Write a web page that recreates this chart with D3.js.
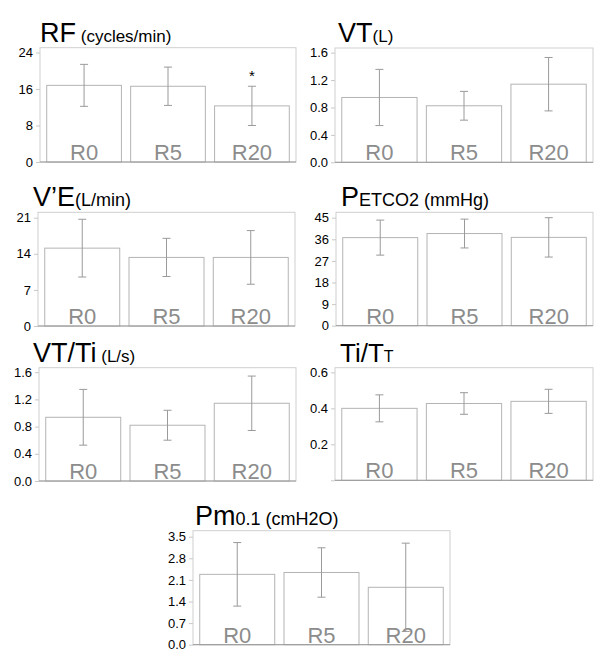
<!DOCTYPE html>
<html>
<head>
<meta charset="utf-8">
<script src="https://cdn.jsdelivr.net/npm/d3@7"></script>
<style>
  body { margin: 0; background: #fff; }
  svg { font-family: "Liberation Sans", Arial, sans-serif; }
  .tick text { fill: #000; font-size: 13px; }
  .tick line { stroke: #c8c8c8; }
</style>
</head>
<body>
<div id="chart"></div>
<script>
// data: mean and SD for each period
var categories = ["R0", "R5", "R20"];

var rfMean = [16.8, 16.6, 12.3];
var rfSD = [4.6, 4.2, 4.3];
var rfTicks = [0, 8, 16, 24];

var vtMean = [0.946, 0.825, 1.14];
var vtSD = [0.41, 0.21, 0.39];
var vtTicks = [0, 0.4, 0.8, 1.2, 1.6];

var veMean = [15.1, 13.3, 13.3];
var veSD = [5.6, 3.7, 5.2];
var veTicks = [0, 7, 14, 21];

var petco2Mean = [36.7, 38.4, 36.8];
var petco2SD = [7.3, 6.0, 8.2];
var petco2Ticks = [0, 9, 18, 27, 36, 45];

var vttiMean = [0.937, 0.82, 1.143];
var vttiSD = [0.41, 0.22, 0.40];
var vttiTicks = [0, 0.4, 0.8, 1.2, 1.6];

var tittMean = [0.40, 0.427, 0.439];
var tittSD = [0.075, 0.06, 0.067];
var tittTicks = [0, 0.2, 0.4, 0.6];

var pmMean = [2.28, 2.34, 1.86];
var pmSD = [1.03, 0.80, 1.43];
var pmTicks = [0, 0.7, 1.4, 2.1, 2.8, 3.5];

// significant difference marker (index into categories)
var rfStar = [2];

var svg = d3.select("#chart")
    .append("svg")
    .attr("width", 600)
    .attr("height", 665);

// one panel per variable
var panels = [
    {mean: rfMean, sd: rfSD, ticks: rfTicks, fmt: d3.format("d"), max: 25.05,
     x0: 40, x1: 296, top: 47.7, base: 162, tx: 40,
     title: [["RF", 27], [" (cycles/min)", 17]], star: rfStar},
    {mean: vtMean, sd: vtSD, ticks: vtTicks, fmt: d3.format(".1f"), max: 1.668,
     x0: 335, x1: 593, top: 48, base: 162.3, tx: 338,
     title: [["VT", 27], ["(L)", 17]]},
    {mean: veMean, sd: veSD, ticks: veTicks, fmt: d3.format("d"), max: 22.05,
     x0: 38, x1: 295, top: 212.3, base: 326, tx: 33,
     title: [["V\u2019E", 27], ["(L/min)", 18]]},
    {mean: petco2Mean, sd: petco2SD, ticks: petco2Ticks, fmt: d3.format("d"), max: 47.25,
     x0: 336, x1: 593, top: 212.3, base: 325.7, tx: 341,
     title: [["P", 27], ["ETCO2 (mmHg)", 18]]},
    {mean: vttiMean, sd: vttiSD, ticks: vttiTicks, fmt: d3.format(".1f"), max: 1.666,
     x0: 39, x1: 296, top: 367.7, base: 481, tx: 33,
     title: [["VT/Ti", 27], [" (L/s)", 17]]},
    {mean: tittMean, sd: tittSD, ticks: tittTicks, fmt: function(d) { return d === 0 ? "" : d3.format(".1f")(d); }, max: 0.626,
     x0: 335, x1: 593, top: 367.7, base: 480.3, tx: 340,
     title: [["Ti/T", 26], ["T", 16]]},
    {mean: pmMean, sd: pmSD, ticks: pmTicks, fmt: d3.format(".1f"), max: 3.694,
     x0: 193, x1: 450, top: 530.7, base: 644.7, tx: 195,
     title: [["Pm", 27], ["0.1 (cmH2O)", 18]]}
];

panels.forEach(function(p) {
    var g = svg.append("g");

    var xScale = d3.scaleBand()
        .domain(categories)
        .range([p.x0, p.x1])
        .paddingInner(0.11)
        .paddingOuter(0.08);

    var yScale = d3.scaleLinear()
        .domain([0, p.max])
        .range([p.base, p.top]);

    // title with smaller unit part
    var t = g.append("text")
        .attr("x", p.tx)
        .attr("y", p.top - 6)
        .attr("fill", "#000");
    p.title.forEach(function(s) {
        t.append("tspan").attr("font-size", s[1] + "px").text(s[0]);
    });

    // frame
    g.append("rect")
        .attr("x", p.x0)
        .attr("y", p.top)
        .attr("width", p.x1 - p.x0)
        .attr("height", p.base - p.top)
        .attr("fill", "none")
        .attr("stroke", "#cfcfcf");

    // y axis
    var ax = g.append("g")
        .attr("transform", "translate(" + p.x0 + ",0)")
        .call(d3.axisLeft(yScale).tickValues(p.ticks).tickFormat(p.fmt).tickSize(4).tickPadding(3));
    ax.select(".domain").remove();

    // bars
    g.selectAll(".bar")
        .data(p.mean)
        .enter().append("rect")
        .attr("class", "bar")
        .attr("x", function(d, i) { return xScale(categories[i]); })
        .attr("width", xScale.bandwidth())
        .attr("y", function(d) { return yScale(d); })
        .attr("height", function(d) { return yScale(0) - yScale(d); })
        .attr("fill", "#fff")
        .attr("stroke", "#b4b4b4");

    // baseline under the bars
    g.append("line")
        .attr("x1", p.x0)
        .attr("x2", p.x1)
        .attr("y1", yScale(0))
        .attr("y2", yScale(0))
        .attr("stroke", "#999");

    // category labels inside bars
    g.selectAll(".cat")
        .data(categories)
        .enter().append("text")
        .attr("x", function(d) { return xScale(d) + xScale.bandwidth() / 2; })
        .attr("y", yScale(0) - 2)
        .attr("text-anchor", "middle")
        .attr("font-size", "22px")
        .attr("fill", "#8c8c8c")
        .text(function(d) { return d; });

    // error bars
    var eb = g.selectAll(".err")
        .data(p.mean)
        .enter().append("g")
        .attr("stroke", "#9a9a9a")
        .attr("stroke-width", 1);
    var cx = function(i) { return xScale(categories[i]) + xScale.bandwidth() / 2; };
    eb.append("line")
        .attr("x1", function(d, i) { return cx(i); })
        .attr("x2", function(d, i) { return cx(i); })
        .attr("y1", function(d, i) { return yScale(d + p.sd[i]); })
        .attr("y2", function(d, i) { return yScale(d - p.sd[i]); });
    [1, -1].forEach(function(s) {
        eb.append("line")
            .attr("x1", function(d, i) { return cx(i) - 4; })
            .attr("x2", function(d, i) { return cx(i) + 4; })
            .attr("y1", function(d, i) { return yScale(d + s * p.sd[i]); })
            .attr("y2", function(d, i) { return yScale(d + s * p.sd[i]); });
    });

    // significance asterisk
    if (p.star) {
        g.selectAll(".star")
            .data(p.star)
            .enter().append("text")
            .attr("x", function(i) { return cx(i); })
            .attr("y", function(i) { return yScale(p.mean[i] + p.sd[i]) - 5; })
            .attr("text-anchor", "middle")
            .attr("font-size", "15px")
            .attr("fill", "#000")
            .text("*");
    }
});
</script>
</body>
</html>
